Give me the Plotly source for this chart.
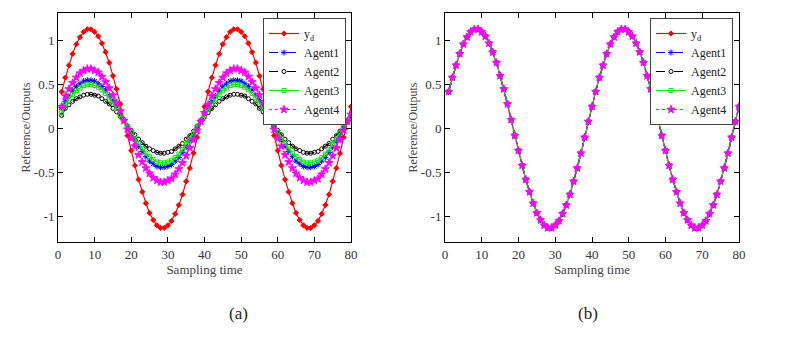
import plotly.graph_objects as go

# sampling instants
k = list(range(1, 81))

# reference trajectory y_d (two periods)
yd = [0.42, 0.58, 0.72, 0.85, 0.96, 1.04, 1.10, 1.13, 1.13, 1.10,
      1.05, 0.97, 0.87, 0.75, 0.60, 0.45, 0.28, 0.10, -0.08, -0.25,
      -0.42, -0.58, -0.72, -0.85, -0.96, -1.04, -1.10, -1.13, -1.13, -1.10,
      -1.05, -0.97, -0.87, -0.75, -0.60, -0.45, -0.28, -0.10, 0.08, 0.25,
      0.42, 0.58, 0.72, 0.85, 0.96, 1.04, 1.10, 1.13, 1.13, 1.10,
      1.05, 0.97, 0.87, 0.75, 0.60, 0.45, 0.28, 0.10, -0.08, -0.25,
      -0.42, -0.58, -0.72, -0.85, -0.96, -1.04, -1.10, -1.13, -1.13, -1.10,
      -1.05, -0.97, -0.87, -0.75, -0.60, -0.45, -0.28, -0.10, 0.08, 0.25]

# (a) agent outputs
agent1_a = [0.24, 0.31, 0.37, 0.43, 0.48, 0.51, 0.54, 0.55, 0.55, 0.54,
            0.51, 0.48, 0.44, 0.38, 0.32, 0.25, 0.18, 0.10, 0.02, -0.05,
            -0.13, -0.20, -0.26, -0.32, -0.37, -0.40, -0.43, -0.44, -0.44, -0.43,
            -0.41, -0.37, -0.33, -0.27, -0.21, -0.14, -0.07, 0.01, 0.09, 0.17,
            0.24, 0.31, 0.37, 0.43, 0.48, 0.51, 0.54, 0.55, 0.55, 0.54,
            0.51, 0.48, 0.44, 0.38, 0.32, 0.25, 0.18, 0.10, 0.02, -0.05,
            -0.13, -0.20, -0.26, -0.32, -0.37, -0.40, -0.43, -0.44, -0.44, -0.43,
            -0.41, -0.37, -0.33, -0.27, -0.21, -0.14, -0.07, 0.01, 0.09, 0.13]
agent2_a = [0.15, 0.23, 0.27, 0.31, 0.34, 0.36, 0.38, 0.39, 0.39, 0.38,
            0.37, 0.34, 0.31, 0.28, 0.23, 0.19, 0.14, 0.09, 0.03, -0.02,
            -0.07, -0.12, -0.16, -0.20, -0.23, -0.25, -0.27, -0.28, -0.28, -0.27,
            -0.26, -0.23, -0.20, -0.17, -0.12, -0.08, -0.03, 0.03, 0.08, 0.13,
            0.18, 0.23, 0.27, 0.31, 0.34, 0.36, 0.38, 0.39, 0.39, 0.38,
            0.37, 0.34, 0.31, 0.28, 0.23, 0.19, 0.14, 0.09, 0.03, -0.02,
            -0.07, -0.12, -0.16, -0.20, -0.23, -0.25, -0.27, -0.28, -0.28, -0.27,
            -0.26, -0.23, -0.20, -0.17, -0.12, -0.08, -0.03, 0.03, 0.08, 0.11]
agent3_a = [0.18, 0.28, 0.34, 0.39, 0.43, 0.46, 0.49, 0.50, 0.50, 0.49,
            0.47, 0.44, 0.40, 0.35, 0.29, 0.23, 0.16, 0.09, 0.02, -0.04,
            -0.11, -0.17, -0.23, -0.28, -0.32, -0.35, -0.38, -0.39, -0.39, -0.38,
            -0.36, -0.33, -0.29, -0.24, -0.18, -0.12, -0.05, 0.02, 0.09, 0.15,
            0.22, 0.28, 0.34, 0.39, 0.43, 0.46, 0.49, 0.50, 0.50, 0.49,
            0.47, 0.44, 0.40, 0.35, 0.29, 0.23, 0.16, 0.09, 0.02, -0.04,
            -0.11, -0.17, -0.23, -0.28, -0.32, -0.35, -0.38, -0.39, -0.39, -0.38,
            -0.36, -0.33, -0.29, -0.24, -0.18, -0.12, -0.05, 0.02, 0.09, 0.12]
agent4_a = [0.25, 0.37, 0.45, 0.52, 0.58, 0.63, 0.66, 0.68, 0.68, 0.66,
            0.64, 0.59, 0.53, 0.46, 0.38, 0.29, 0.20, 0.09, -0.01, -0.11,
            -0.20, -0.30, -0.38, -0.45, -0.51, -0.56, -0.59, -0.61, -0.61, -0.59,
            -0.57, -0.52, -0.46, -0.39, -0.31, -0.22, -0.13, -0.02, 0.08, 0.18,
            0.27, 0.37, 0.45, 0.52, 0.58, 0.63, 0.66, 0.68, 0.68, 0.66,
            0.64, 0.59, 0.53, 0.46, 0.38, 0.29, 0.20, 0.09, -0.01, -0.11,
            -0.20, -0.30, -0.38, -0.45, -0.51, -0.56, -0.59, -0.61, -0.61, -0.59,
            -0.57, -0.52, -0.46, -0.39, -0.31, -0.22, -0.13, -0.02, 0.08, 0.16]

# (b) after learning every agent tracks y_d
agent1_b = list(yd)
agent2_b = list(yd)
agent3_b = list(yd)
agent4_b = list(yd)

names = ["y<sub>d</sub>", "Agent1", "Agent2", "Agent3", "Agent4"]
styles = [
    dict(color="#ff0000", dash="solid", symbol="diamond", msize=4),
    dict(color="#0000ff", dash="dashdot", symbol="asterisk-open", msize=5),
    dict(color="#000000", dash="dash", symbol="circle-open", msize=4),
    dict(color="#00ee00", dash="solid", symbol="square-open", msize=4),
    dict(color="#ff00ff", dash="dot", symbol="star", msize=6),
]

FONT = "Liberation Serif"
W, H, OFF = 779, 333, 8  # page body has an 8px margin


def px(x):
    return (x - OFF) / W


def py(y):
    return 1 - (y - OFF) / H


fig = go.Figure()

panels = [
    ("x", "y", "legend", [yd, agent1_a, agent2_a, agent3_a, agent4_a]),
    ("x2", "y2", "legend2", [yd, agent1_b, agent2_b, agent3_b, agent4_b]),
]
for xa, ya, leg, series in panels:
    for name, st, vals in zip(names, styles, series):
        fig.add_trace(go.Scatter(
            x=k, y=vals, name=name, xaxis=xa, yaxis=ya, legend=leg,
            mode="lines+markers",
            line=dict(color=st["color"], dash=st["dash"], width=1.2),
            marker=dict(symbol=st["symbol"], size=st["msize"], color=st["color"],
                        line=dict(color=st["color"], width=1)),
        ))

axis_common = dict(
    showline=True, mirror="allticks", linecolor="black", linewidth=1,
    ticks="inside", ticklen=5, tickcolor="black", showgrid=False, zeroline=False,
    automargin=False,
    tickfont=dict(family=FONT, size=13, color="#333333"),
)
xax = dict(axis_common, range=[0, 80], tickvals=[0, 10, 20, 30, 40, 50, 60, 70, 80],
           title=dict(text="Sampling time", font=dict(family=FONT, size=13, color="#444444"), standoff=0))
yax = dict(axis_common, range=[-1.29, 1.315], tickvals=[-1, -0.5, 0, 0.5, 1],
           ticktext=["-1", "-0.5", "0", "0.5", "1"],
           title=dict(text="Reference/Outputs", font=dict(family=FONT, size=12, color="#444444"), standoff=0))

legend_common = dict(
    font=dict(family=FONT, size=12, color="#222222"),
    bgcolor="white", bordercolor="#444444", borderwidth=1,
    xanchor="right", yanchor="top", tracegroupgap=0, itemwidth=30,
)

fig.update_layout(
    width=W, height=H,
    margin=dict(l=0, r=0, t=0, b=0),
    paper_bgcolor="white", plot_bgcolor="white",
    xaxis=dict(xax, domain=[px(58), px(351)], anchor="y"),
    yaxis=dict(yax, domain=[py(242), py(13)], anchor="x"),
    xaxis2=dict(xax, domain=[px(445), px(739)], anchor="y2"),
    yaxis2=dict(yax, domain=[py(242), py(13)], anchor="x2"),
    legend=dict(legend_common, x=px(346), y=py(18)),
    legend2=dict(legend_common, x=px(733), y=py(18)),
    annotations=[
        dict(text="(a)", x=px(227), y=py(325), xref="paper", yref="paper",
             showarrow=False, font=dict(family=FONT, size=17, color="#222222")),
        dict(text="(b)", x=px(600), y=py(325), xref="paper", yref="paper",
             showarrow=False, font=dict(family=FONT, size=17, color="#222222")),
    ],
)

fig.write_html("out.html")
